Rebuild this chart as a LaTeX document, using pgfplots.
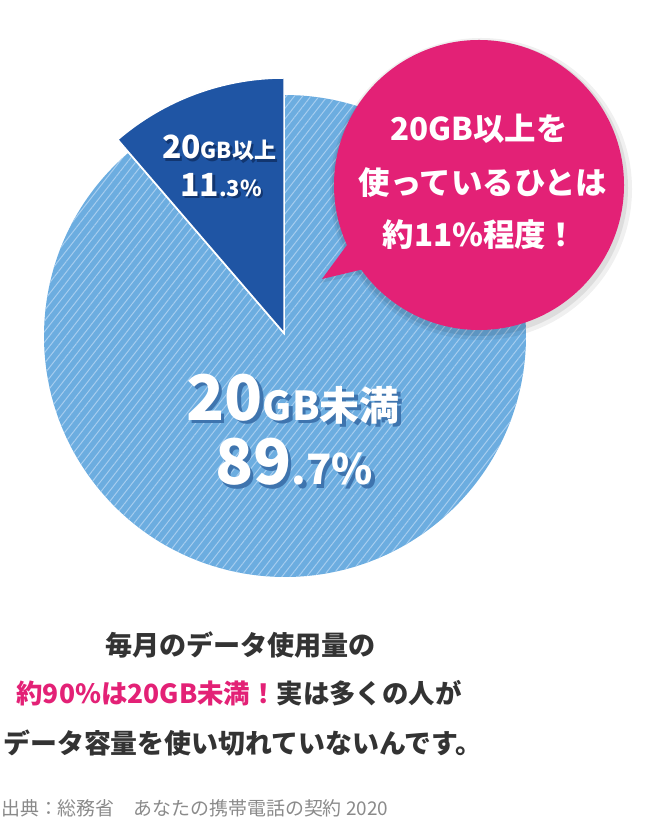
\documentclass[border=0pt]{standalone}
\usepackage{pgfplots}
\pgfplotsset{compat=1.18}
\usepackage{pgfplotstable}
\usepackage{fontspec}
\setmainfont{Noto Sans CJK JP}
\usetikzlibrary{patterns.meta}

\definecolor{lightblue}{HTML}{6CADE0}
\definecolor{stripe}{HTML}{A6CDEF}
\definecolor{darkblue}{HTML}{1F55A4}
\definecolor{bubble}{HTML}{E32176}
\definecolor{bodytext}{HTML}{333333}
\definecolor{srctext}{HTML}{8A8A8A}
\definecolor{shadowL}{HTML}{3E74AE}
\definecolor{shadowD}{HTML}{123670}

\pgfplotstableread{
slice value
over 11.3
under 89.7
}\piedata

\newcommand\lblOver{{\fontsize{32}{32}\selectfont 20}{\fontsize{22}{24}\selectfont GB以上}}
\newcommand\lblOverV{{\fontsize{32}{32}\selectfont 11}{\fontsize{22}{24}\selectfont .3\%}}
\newcommand\lblUnder{{\fontsize{63}{64}\selectfont 20}{\fontsize{40}{40}\selectfont GB未満}}
\newcommand\lblUnderV{{\fontsize{63}{64}\selectfont 89}{\fontsize{42}{44}\selectfont .7\%}}

\begin{document}%
\pgfplotstablegetelem{0}{value}\of\piedata%
\let\vOver\pgfplotsretval%
\pgfplotstablegetelem{1}{value}\of\piedata%
\let\vUnder\pgfplotsretval%
\pgfmathsetmacro\aE{90+\vOver*3.6}%
\pgfmathsetmacro\aF{\aE+\vUnder*3.6}%
\begin{tikzpicture}
\begin{axis}[x=1bp,y=1bp,xmin=0,xmax=658,ymin=0,ymax=832,hide axis,clip=false]
\coordinate (BL) at (axis cs:0,0);
\coordinate (TR) at (axis cs:658,832);
% large slice
\fill[lightblue] (axis cs:285,496) -- ++(\aE:241bp) arc[start angle=\aE, end angle=\aF, radius=241bp] -- cycle;
\fill[pattern={Lines[angle=52,distance=6.5bp,line width=1bp]}, pattern color=stripe] (axis cs:285,496) -- ++(\aE:241bp) arc[start angle=\aE, end angle=\aF, radius=241bp] -- cycle;
% small slice, pulled out and enlarged
\fill[darkblue, draw=white, line width=1.5bp] (axis cs:284,499) -- ++(90:255bp) arc[start angle=90, end angle=\aE, radius=255bp] -- cycle;
% labels small slice
\node[text=shadowD, font=\bfseries] at ([shift={(2.5bp,-2.5bp)}]axis cs:219,684) {\lblOver};
\node[text=white, font=\bfseries] at (axis cs:219,684) {\lblOver};
\node[text=shadowD, font=\bfseries] at ([shift={(2.5bp,-2.5bp)}]axis cs:221,647) {\lblOverV};
\node[text=white, font=\bfseries] at (axis cs:221,647) {\lblOverV};
% labels large slice
\node[text=shadowL, font=\bfseries] at ([shift={(3.5bp,-3.5bp)}]axis cs:293,433) {\lblUnder};
\node[text=white, font=\bfseries] at (axis cs:293,433) {\lblUnder};
\node[text=shadowL, font=\bfseries] at ([shift={(3.5bp,-3.5bp)}]axis cs:294,370) {\lblUnderV};
\node[text=white, font=\bfseries] at (axis cs:294,370) {\lblUnderV};
% bubble shadow
\fill[black, opacity=0.06] (axis cs:481,643) circle[radius=151bp];
\fill[black, opacity=0.08] (axis cs:480,644) circle[radius=148bp];
\fill[black, opacity=0.08] (axis cs:343,581) -- (axis cs:320,549) -- (axis cs:362,558) -- cycle;
% bubble
\fill[bubble] (axis cs:479,647) circle[radius=145bp];
\fill[bubble] (axis cs:347,587) -- (axis cs:322,553) -- (axis cs:364,563) -- cycle;
\node[text=white, font=\bfseries\fontsize{31.5}{33}\selectfont] at (axis cs:479,703) {20GB以上を};
\node[text=white, font=\bfseries\fontsize{31.5}{33}\selectfont] at (axis cs:483,649) {使っているひとは};
\node[text=white, font=\bfseries\fontsize{31.5}{33}\selectfont] at (axis cs:480,597) {約11\%程度！};
% bottom text
\node[text=bodytext, font=\bfseries\fontsize{27.2}{30}\selectfont] at (axis cs:240.5,187) {毎月のデータ使用量の};
\node[text=bodytext, font=\bfseries\fontsize{26.5}{30}\selectfont] at (axis cs:239,139) {\textcolor{bubble}{約90\%は20GB未満！}実は多くの人が};
\node[text=bodytext, font=\bfseries\fontsize{27}{30}\selectfont] at (axis cs:243,89) {データ容量を使い切れていないんです。};
\node[text=srctext, anchor=west, inner sep=0pt, font=\fontsize{19}{22}\selectfont] at (axis cs:1,24) {出典：総務省　あなたの携帯電話の契約 2020};
\end{axis}
\pgfresetboundingbox
\path[use as bounding box] (BL) rectangle (TR);
\end{tikzpicture}%
\end{document}
